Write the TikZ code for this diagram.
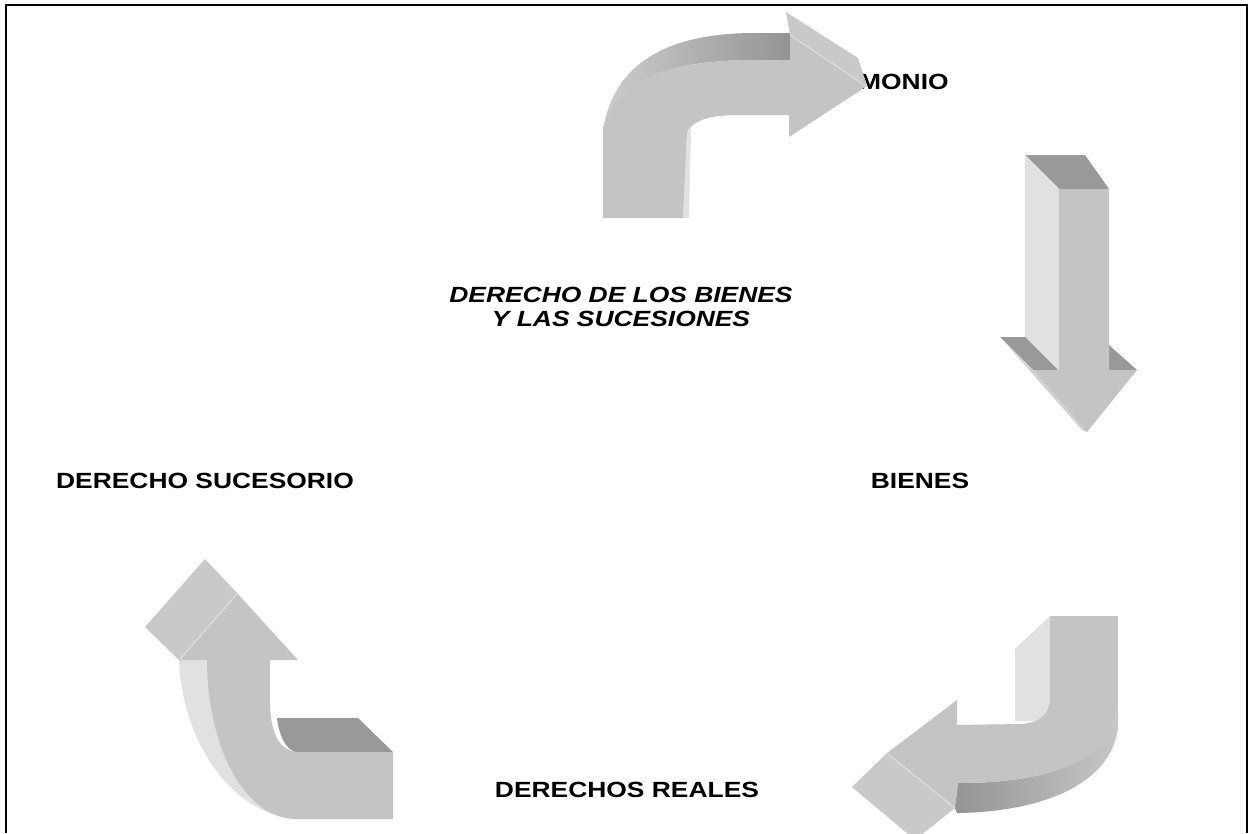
\documentclass[tikz,border=0pt]{standalone}
\usepackage{fontspec}
\newfontfamily\afb[FakeStretch=1.2]{Liberation Sans Bold}
\newfontfamily\afbi[FakeStretch=1.2]{Liberation Sans Bold Italic}
\definecolor{frontc}{HTML}{C4C4C4}
\definecolor{darkc}{HTML}{999999}
\definecolor{lightc}{HTML}{E1E1E1}
\definecolor{headc}{HTML}{C9C9C9}
\definecolor{edgec}{HTML}{DDDDDD}
\tikzset{
  front/.style={fill=frontc, draw=none},
  darkface/.style={fill=darkc, draw=none},
  lightface/.style={fill=lightc, draw=none},
  headface/.style={fill=headc, draw=none},
  edgeline/.style={draw=edgec, line width=1.2pt},
  lbl/.style={font=\afb\fontsize{22}{24}\selectfont, inner sep=0pt, text=black},
  ilbl/.style={font=\afbi\fontsize{22}{24}\selectfont, inner sep=0pt, align=center, text=black},
}
\begin{document}
\begin{tikzpicture}[x=1pt,y=-1pt]
\useasboundingbox (0,0) rectangle (1249,833);
\fill[white] (0,0) rectangle (1249,833);
% frame
\draw[line width=2pt] (6,833) -- (6,5) -- (1247,5) -- (1247,833);

% labels
\node[lbl, anchor=west] (pat) at (859,81.5) {MONIO};
\node[ilbl] (central) at (621,307) {DERECHO DE LOS BIENES\\Y LAS SUCESIONES};
\node[lbl] (bien) at (920,480.5) {BIENES};
\node[lbl] (suc) at (205,480.5) {DERECHO SUCESORIO};
\node[lbl] (reales) at (627,790) {DERECHOS REALES};

% ---------- top arrow (to the right) ----------
\shade[left color=black!20, right color=black!42]
  (790,33) -- (755,33) .. controls (680,33) and (615,55) .. (603,130)
  .. controls (612,80) and (670,60) .. (755,60) -- (790,60) -- cycle;
\fill[headface] (786,12) -- (858,58) -- (867,86) -- (790,35) -- cycle;
\fill[lightface] (683,218) -- (689,218) -- (691,128) -- (687,132) -- cycle;
\fill[front] (603,218) -- (683,218) -- (687,132)
  .. controls (695,118) and (715,115) .. (740,115) -- (789,115) -- (789,137)
  -- (867,86) -- (790,35) -- (790,60) -- (755,60)
  .. controls (670,60) and (612,80) .. (603,130) -- cycle;
\draw[edgeline] (790,35) -- (866,86);

% ---------- right arrow (down) ----------
\fill[darkface] (1025,155) -- (1085,155) -- (1109,189) -- (1059,189) -- cycle;
\fill[lightface] (1025,155) -- (1059,189) -- (1059,370) -- (1025,337) -- cycle;
\fill[darkface] (1000,337) -- (1025,337) -- (1058,370) -- (1033,370) -- cycle;
\fill[darkface] (1109,345) -- (1137,370) -- (1109,370) -- cycle;
\fill[fill=black!18] (1000,337) -- (1033,370) -- (1087,432) -- (1082,430) -- cycle;
\fill[front] (1059,189) -- (1109,189) -- (1109,370) -- (1137,370) -- (1087,432)
  -- (1033,370) -- (1059,370) -- cycle;

% ---------- bottom-right arrow (to the left) ----------
\fill[lightface] (1050,616) -- (1015,649) -- (1015,721) -- (1050,721) -- cycle;
\shade[left color=black!42, right color=black!22]
  (1118,700) .. controls (1116,765) and (1040,783) .. (958,783) -- (955,808)
  -- (957,813) .. controls (1040,812) and (1112,785) .. (1118,727) -- cycle;
\fill[headface] (887,753) -- (852,787) -- (915,840) -- (955,808) -- cycle;
\fill[front] (1050,616) -- (1118,616) -- (1118,700)
  .. controls (1116,765) and (1040,783) .. (958,783) -- (955,808) -- (887,753)
  -- (957,700) -- (957,725) -- (1020,724)
  .. controls (1040,723) and (1050,715) .. (1050,695) -- cycle;
\draw[edgeline] (888,754) -- (955,808);

% ---------- bottom-left arrow (up) ----------
\fill[darkface] (277,718) -- (358,718) -- (393,752) -- (295,752)
  .. controls (285,748) and (279,735) .. (277,718) -- cycle;
\fill[lightface] (179,660) .. controls (182,735) and (225,810) .. (293,819)
  -- (293,760) -- (207,660) -- cycle;
\fill[headface] (145,627) -- (205,559) -- (237,593) -- (179,660) -- cycle;
\fill[front] (237,593) -- (298,660) -- (270,660) -- (270,700)
  .. controls (270,735) and (280,752) .. (300,752) -- (393,752) -- (393,819)
  -- (293,819) .. controls (240,815) and (207,740) .. (207,660)
  -- (179,660) -- cycle;
\draw[edgeline] (237,594) -- (180,659);
\end{tikzpicture}
\end{document}
